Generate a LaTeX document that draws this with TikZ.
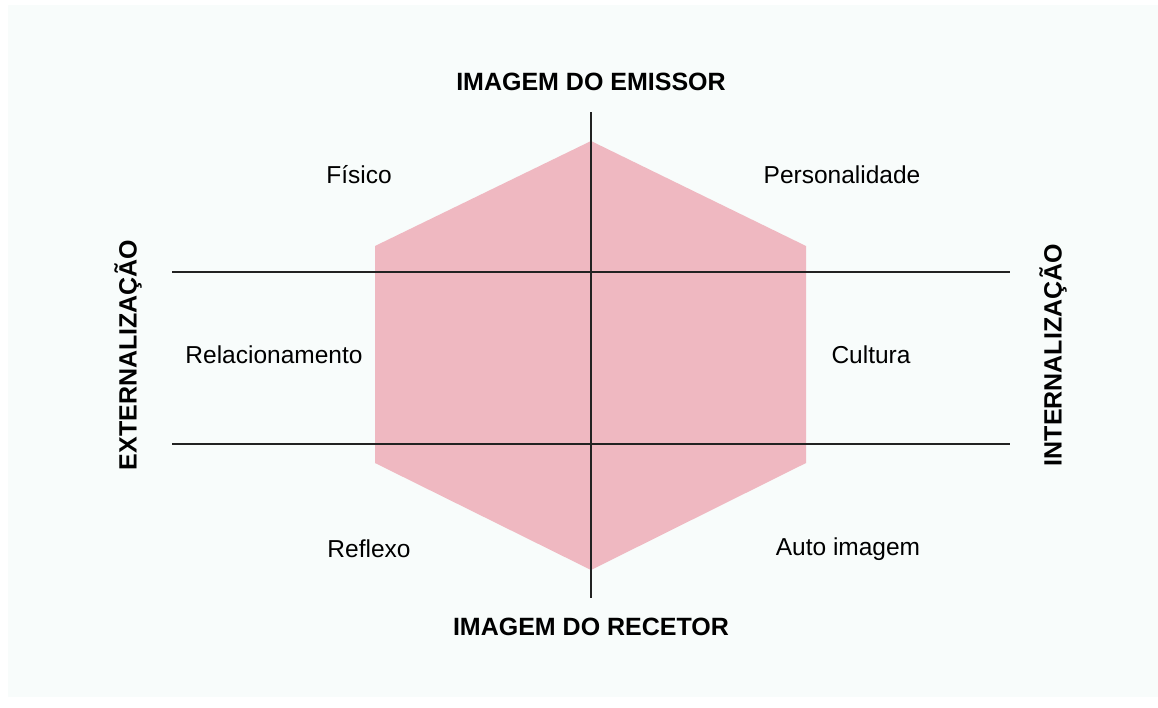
\documentclass[tikz,border=0pt]{standalone}
\usepackage{fontspec}
\setmainfont{Liberation Sans}
\definecolor{bgtint}{HTML}{F8FCFB}
\definecolor{hexpink}{HTML}{EFB8C1}
\definecolor{lineblack}{HTML}{222222}
\begin{document}
\begin{tikzpicture}[x=1pt,y=-1pt,
  axis/.style={draw=lineblack,line width=2pt},
  lab/.style={font=\fontsize{24.5}{29}\selectfont,text=black,inner sep=0pt},
  head/.style={font=\fontsize{25}{30}\selectfont\bfseries,text=black,inner sep=0pt}]
\fill[white] (0,0) rectangle (1158,707);
\useasboundingbox (0,0) rectangle (1158,707);
\fill[bgtint] (8,5) rectangle (1158,697);
% hexagon
\coordinate (ht) at (591,141);
\coordinate (hul) at (375,246);
\coordinate (hll) at (375,463);
\coordinate (hb) at (591,570);
\coordinate (hlr) at (806,463);
\coordinate (hur) at (806,246);
\fill[hexpink] (ht) -- (hur) -- (hlr) -- (hb) -- (hll) -- (hul) -- cycle;
% axes
\coordinate (vtop) at (591,112);
\coordinate (vbot) at (591,598);
\coordinate (h1l) at (172,272);
\coordinate (h1r) at (1010,272);
\coordinate (h2l) at (172,444);
\coordinate (h2r) at (1010,444);
\draw[axis] (vtop) -- (vbot);
\draw[axis] (h1l) -- (h1r);
\draw[axis] (h2l) -- (h2r);
% labels
\node[head] (emissor) at (591,82) {IMAGEM DO EMISSOR};
\node[head] (recetor) at (591,627) {IMAGEM DO RECETOR};
\node[head,rotate=90] (ext) at (128,355) {EXTERNALIZAÇÃO};
\node[head,rotate=90] (int) at (1053,355) {INTERNALIZAÇÃO};
\node[lab] (fisico) at (359,175) {Físico};
\node[lab] (pers) at (842,175) {Personalidade};
\node[lab] (rel) at (274,355) {Relacionamento};
\node[lab] (cult) at (871,355) {Cultura};
\node[lab] (refl) at (369,549) {Reflexo};
\node[lab] (auto) at (848,549) {Auto imagem};
\end{tikzpicture}
\end{document}
